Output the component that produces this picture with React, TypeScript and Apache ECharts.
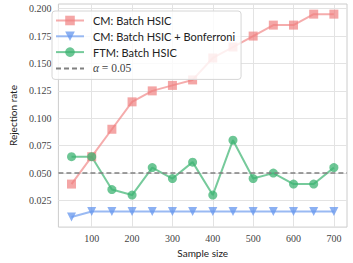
import React, { useEffect, useRef } from "react";
import * as echarts from "echarts";

const sampleSizes = [50, 100, 150, 200, 250, 300, 350, 400, 450, 500, 550, 600, 650, 700];
const cmBatch = [0.04, 0.065, 0.09, 0.115, 0.125, 0.13, 0.135, 0.155, 0.165, 0.175, 0.185, 0.185, 0.195, 0.195];
const cmBonf = [0.01, 0.015, 0.015, 0.015, 0.015, 0.015, 0.015, 0.015, 0.015, 0.015, 0.015, 0.015, 0.015, 0.015];
const ftmBatch = [0.065, 0.065, 0.035, 0.03, 0.055, 0.045, 0.06, 0.03, 0.08, 0.045, 0.05, 0.04, 0.04, 0.055];
const alpha = 0.05;
const xTicks = [100, 200, 300, 400, 500, 600, 700];
const yTicks = [0.025, 0.05, 0.075, 0.1, 0.125, 0.15, 0.175, 0.2];
const seriesNames = ["CM: Batch HSIC", "CM: Batch HSIC + Bonferroni", "FTM: Batch HSIC", "α = 0.05"];

const X_MIN = 17.5;
const X_MAX = 732.5;

export default function App() {
  const ref = useRef<HTMLDivElement>(null);
  useEffect(() => {
    if (!ref.current) return;
    const chart = echarts.init(ref.current, undefined, { renderer: "svg" });
    const pair = (ys: number[]) => sampleSizes.map((x, i) => [x, ys[i]]);
    const sansFont = "Lato";
    const serifFont = "Liberation Serif";
    const tickRich = { s: { fontFamily: serifFont, fontSize: 10, color: "#444" } };
    chart.setOption({
      animation: false,
      backgroundColor: "#ffffff",
      grid: {
        left: 47,
        right: 6,
        top: 4,
        bottom: 34,
        show: true,
        borderColor: "#cccccc",
        borderWidth: 1,
      },
      legend: {
        orient: "vertical",
        left: 52,
        top: 11,
        padding: [4, 6, 5, 3],
        itemWidth: 28,
        itemHeight: 12,
        itemGap: 4.8,
        backgroundColor: "rgba(255,255,255,0.82)",
        borderColor: "#d6d6d6",
        borderWidth: 1,
        borderRadius: 3,
        formatter: (name: string) => (name === seriesNames[3] ? "{a|α} {m|= 0.05}" : name),
        textStyle: {
          fontFamily: sansFont,
          fontSize: 11,
          color: "#222",
          padding: [0, 0, 0, 4],
          rich: {
            a: { fontFamily: serifFont, fontStyle: "italic", fontSize: 11.5, color: "#444" },
            m: { fontFamily: serifFont, fontSize: 11.5, color: "#444" },
          },
        },
        data: seriesNames,
      },
      xAxis: {
        type: "value",
        min: X_MIN,
        max: X_MAX,
        name: "Sample size",
        nameLocation: "middle",
        nameGap: 20,
        nameTextStyle: { fontFamily: sansFont, fontSize: 10, color: "#222" },
        axisLine: { show: false },
        axisTick: { show: false, customValues: xTicks },
        axisLabel: {
          customValues: xTicks,
          formatter: (v: number) => `{s|${v}}`,
          rich: tickRich,
          fontFamily: serifFont,
          fontSize: 10,
          color: "#444",
          margin: 6,
        },
        splitLine: { show: true, lineStyle: { color: "#e3e3e3", width: 1 } },
      },
      yAxis: {
        type: "value",
        min: 0.00075,
        max: 0.20425,
        name: "Rejection rate",
        nameLocation: "middle",
        nameGap: 37,
        nameTextStyle: { fontFamily: sansFont, fontSize: 10, color: "#222" },
        axisLine: { show: false },
        axisTick: { show: false, customValues: yTicks },
        axisLabel: {
          customValues: yTicks,
          formatter: (v: number) => `{s|${v.toFixed(3)}}`,
          rich: tickRich,
          fontFamily: serifFont,
          fontSize: 10,
          color: "#444",
          margin: 7,
        },
        splitLine: { show: true, lineStyle: { color: "#e3e3e3", width: 1 } },
      },
      series: [
        {
          name: seriesNames[0],
          type: "line",
          data: pair(cmBatch),
          symbol: "rect",
          symbolSize: 9,
          lineStyle: { width: 2, color: "rgba(240,128,128,0.65)" },
          itemStyle: { color: "rgba(240,128,128,0.7)" },
          z: 3,
        },
        {
          name: seriesNames[1],
          type: "line",
          data: pair(cmBonf),
          symbol: "triangle",
          symbolRotate: 180,
          symbolSize: 9,
          lineStyle: { width: 2, color: "rgba(100,149,237,0.65)" },
          itemStyle: { color: "rgba(100,149,237,0.75)" },
          z: 3,
        },
        {
          name: seriesNames[2],
          type: "line",
          data: pair(ftmBatch),
          symbol: "circle",
          symbolSize: 9,
          lineStyle: { width: 2, color: "rgba(60,179,113,0.7)" },
          itemStyle: { color: "rgba(60,179,113,0.75)" },
          z: 3,
        },
        {
          name: seriesNames[3],
          type: "line",
          data: [[X_MIN, alpha], [X_MAX, alpha]],
          symbol: "none",
          lineStyle: { width: 1.5, color: "#808080", type: [5, 3] },
          itemStyle: { color: "rgba(0,0,0,0)" },
          z: 4,
        },
      ],
    });
    return () => chart.dispose();
  }, []);
  return <div ref={ref} style={{ width: 353, height: 263, position: "absolute", left: 0, top: 0 }} />;
}
